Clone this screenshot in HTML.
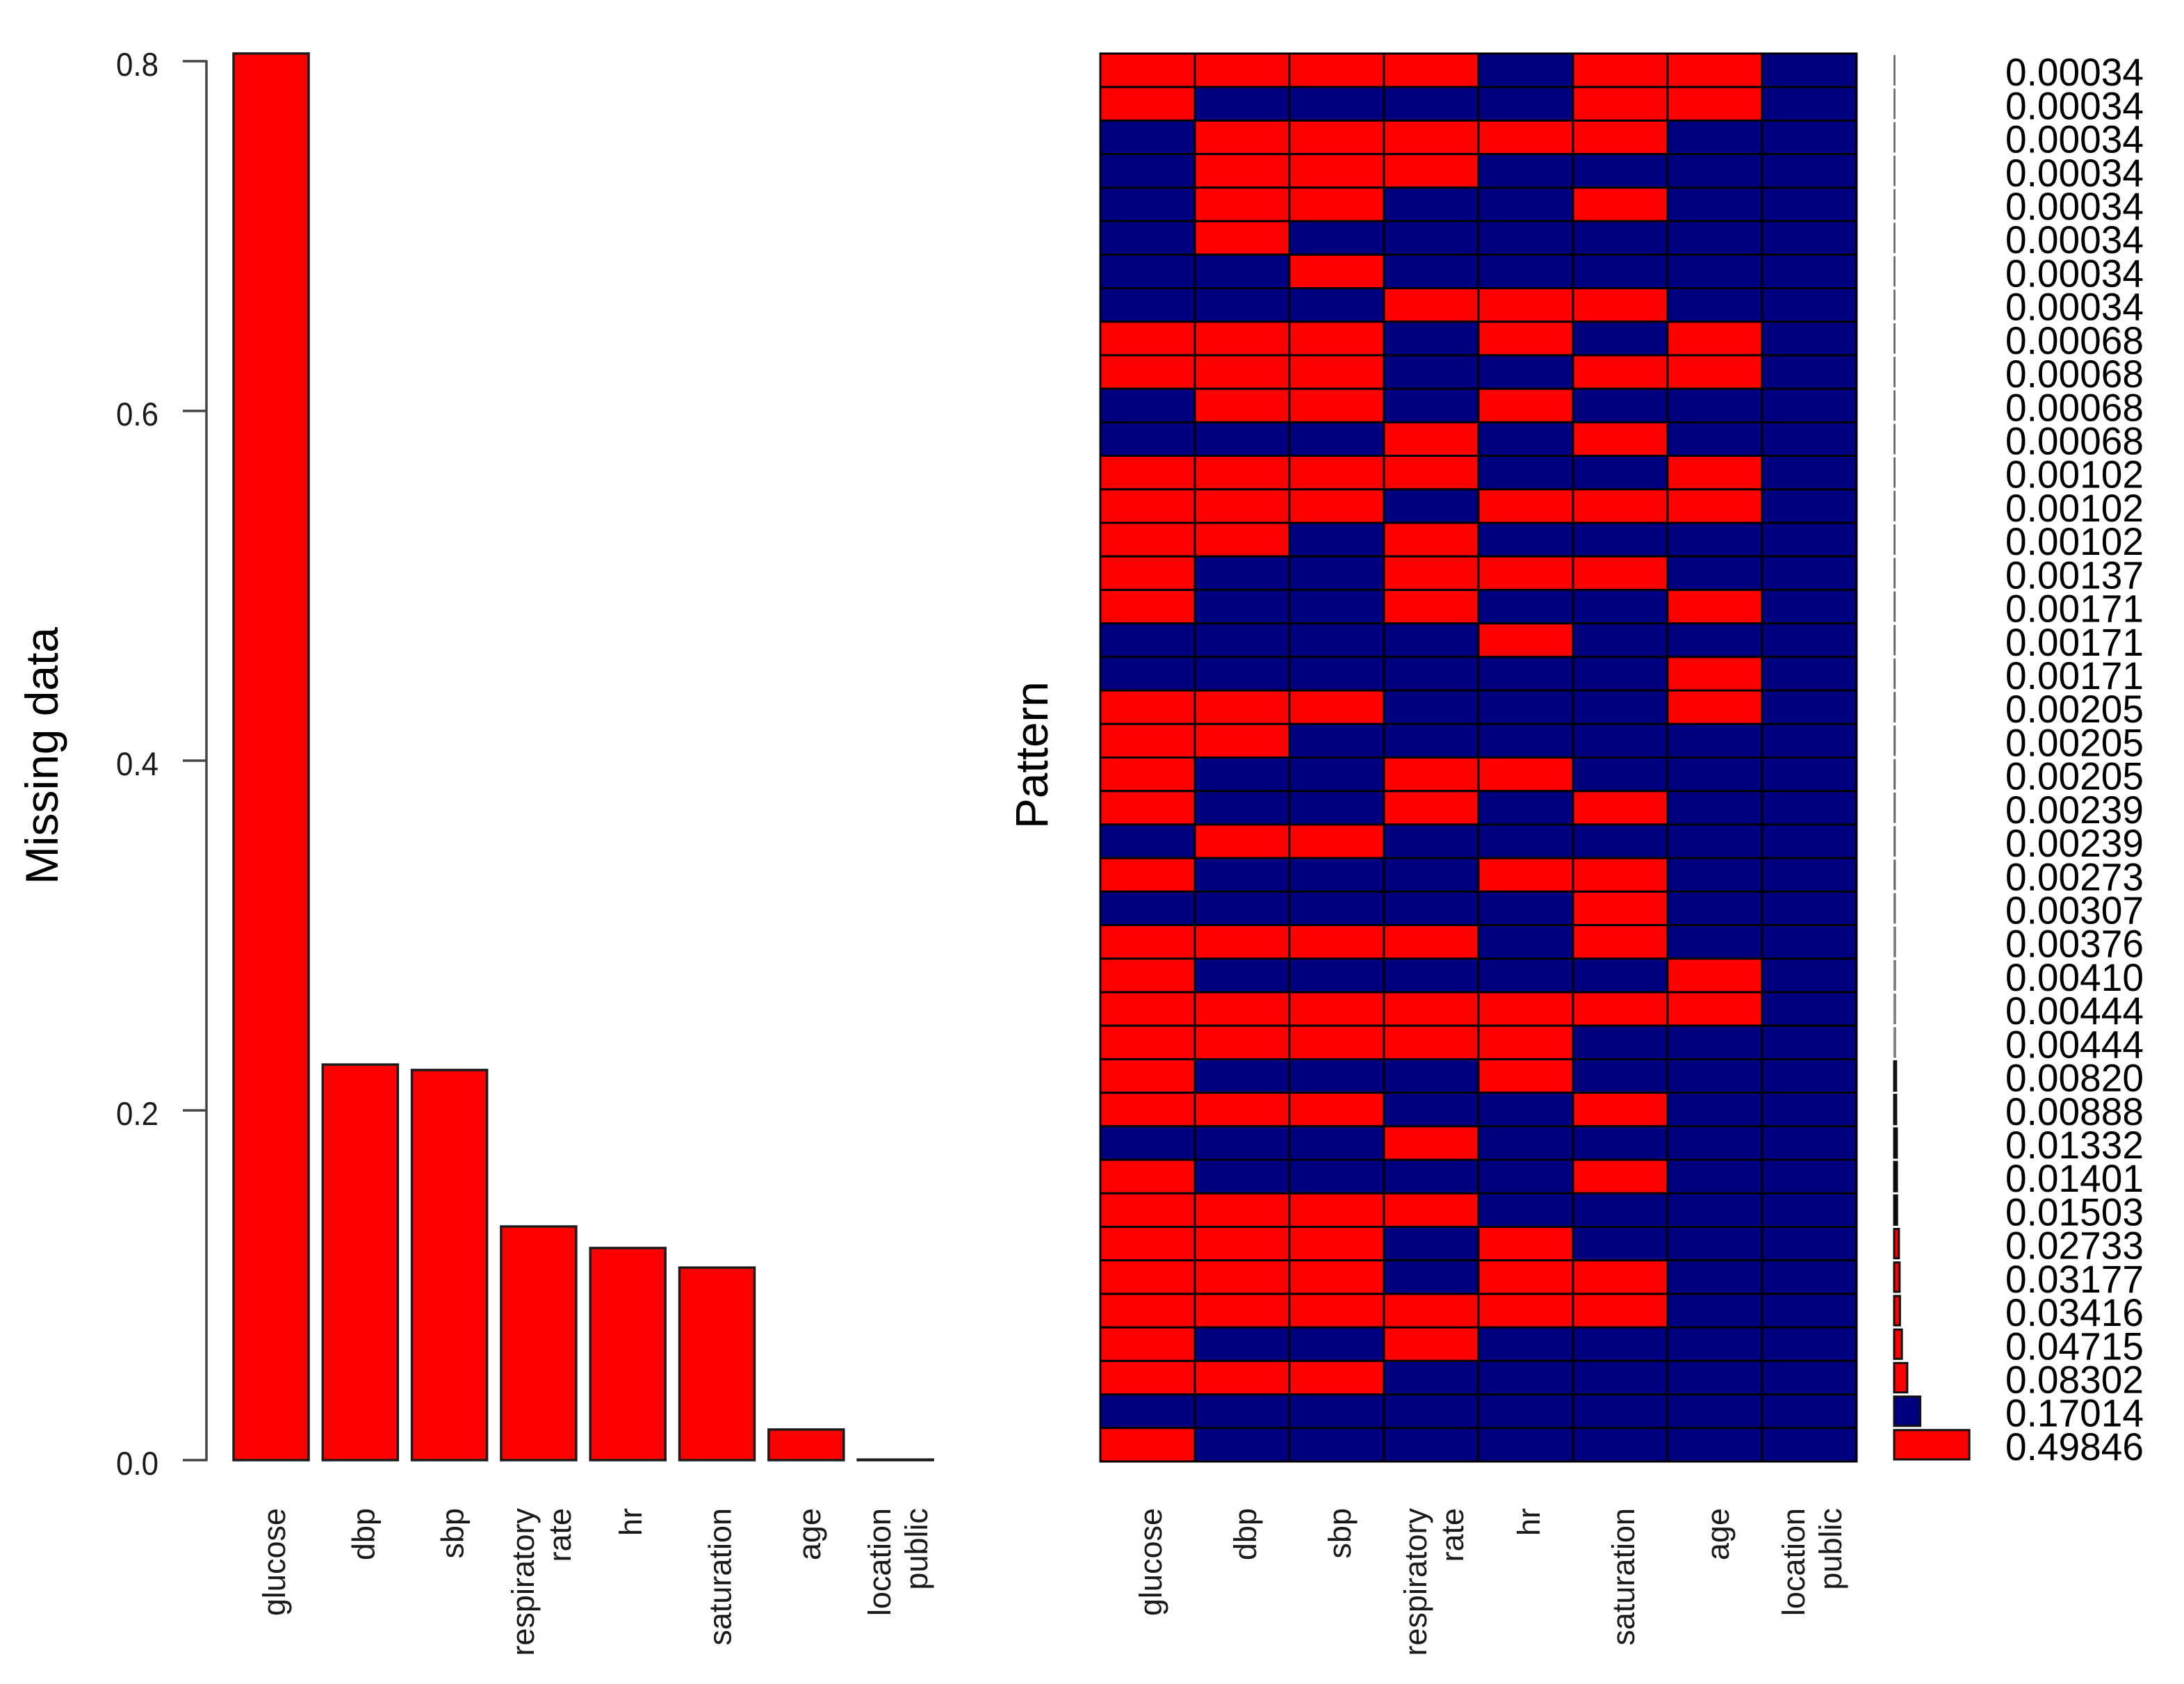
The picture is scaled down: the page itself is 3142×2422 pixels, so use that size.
<!DOCTYPE html>
<html lang="en">
<head>
<meta charset="utf-8">
<title>Missing data pattern</title>
<style>
html,body{margin:0;padding:0;background:#fff;}
svg{display:block;font-family:"Liberation Sans",Arial,sans-serif;}
</style>
</head>
<body>
<svg id="chart" xmlns="http://www.w3.org/2000/svg" width="3142" height="2422" viewBox="0 0 3142 2422">
  <rect x="0" y="0" width="3142" height="2422" fill="#ffffff"/>
  <g id="left-panel"></g>
  <g id="right-panel"></g>
  <g id="freq-panel"></g>
  <text transform="translate(83,1272) rotate(-90)" font-size="66" textLength="370" lengthAdjust="spacingAndGlyphs" fill="#000">Missing data</text>
  <text transform="translate(1507,1192) rotate(-90)" font-size="66" textLength="212" lengthAdjust="spacingAndGlyphs" fill="#000">Pattern</text>
</svg>
<script>
const categories = ["glucose", "dbp", "sbp", "respiratory\nrate", "hr", "saturation", "age", "location\npublic"];
const missingShare = [0.8044, 0.2262, 0.2231, 0.1336, 0.1213, 0.1101, 0.0175, 0.0003];
const yTicks = [0, 0.2, 0.4, 0.6, 0.8];
const patternFreq = [
  0.00034, 0.00034, 0.00034, 0.00034, 0.00034, 0.00034, 0.00034, 0.00034,
  0.00068, 0.00068, 0.00068, 0.00068, 0.00102, 0.00102, 0.00102, 0.00137,
  0.00171, 0.00171, 0.00171, 0.00205, 0.00205, 0.00205, 0.00239, 0.00239,
  0.00273, 0.00307, 0.00376, 0.00410, 0.00444, 0.00444, 0.00820, 0.00888,
  0.01332, 0.01401, 0.01503, 0.02733, 0.03177, 0.03416, 0.04715, 0.08302,
  0.17014, 0.49846
];
const patternRows = [
  "11110110", "10000110", "01111100", "01110000", "01100100", "01000000",
  "00100000", "00011100", "11101010", "11100110", "01101000", "00010100",
  "11110010", "11101110", "11010000", "10011100", "10010010", "00001000",
  "00000010", "11100010", "11000000", "10011000", "10010100", "01100000",
  "10001100", "00000100", "11110100", "10000010", "11111110", "11111000",
  "10001000", "11100100", "00010000", "10000100", "11110000", "11101000",
  "11101100", "11111100", "10010000", "11100000", "00000000", "10000000"
];

const NS = "http://www.w3.org/2000/svg";
function mk(parent, tag, attrs, text) {
  const el = document.createElementNS(NS, tag);
  for (const k in attrs) el.setAttribute(k, attrs[k]);
  if (text !== undefined) el.textContent = text;
  parent.appendChild(el);
  return el;
}
const RED = "#ff0000", NAVY = "#000080";

/* axis functions */
const yMissing = v => 2100 - v * 2515;
const barLeft = i => 336 + i * 128.3;
const BAR_W = 108;
const heatTop = 77, heatBottom = 2102, heatLeft = 1583, heatRight = 2671;
const rowH = (heatBottom - heatTop) / patternRows.length;
const colW = (heatRight - heatLeft) / categories.length;
const rowY = i => heatTop + i * rowH;
const colX = j => heatLeft + j * colW;
const freqBase = 2726;
const freqW = v => v * 215;

/* rotated category labels */
function drawCategoryLabels(parent, center) {
  categories.forEach((name, i) => {
    const lines = name.split("\n");
    const offsets = lines.length === 1 ? [20] : [-7, 46];
    lines.forEach((line, k) => {
      const x = center(i) + offsets[k];
      const t = mk(parent, "text", {
        transform: "translate(" + x + ",2169) rotate(-90)",
        "text-anchor": "end",
        "font-size": "45",
        fill: "#1a1a1a"
      }, line);
      
      
    });
  });
}

/* left panel */
const left = document.getElementById("left-panel");
const axisLine = mk(left, "line", {
  x1: 297, x2: 297, y1: yMissing(yTicks[yTicks.length - 1]) - 1.5, y2: yMissing(yTicks[0]) + 1.5,
  stroke: "#444", "stroke-width": 3.5
});


yTicks.forEach(v => {
  const y = yMissing(v);
  const tick = mk(left, "line", { x1: 263, x2: 297, y1: y, y2: y, stroke: "#444", "stroke-width": 3.5 });
  
  
  const lab = mk(left, "text", {
    x: 167, y: y + 21, "font-size": "47", fill: "#1a1a1a",
    textLength: 61, lengthAdjust: "spacingAndGlyphs"
  }, v.toFixed(1));
  
  
});
missingShare.forEach((v, i) => {
  const y = yMissing(v);
  const bar = mk(left, "rect", {
    x: barLeft(i), y: y, width: BAR_W, height: yMissing(0) - y,
    fill: RED, stroke: "#1c1c1c", "stroke-width": 3.5
  });
  
  
});
drawCategoryLabels(left, i => barLeft(i) + BAR_W / 2);

/* heatmap */
const right = document.getElementById("right-panel");
patternRows.forEach((row, r) => {
  row.split("").forEach((c, j) => {
    const cell = mk(right, "rect", {
      x: colX(j), y: rowY(r), width: colW, height: rowH,
      fill: c === "1" ? RED : NAVY, stroke: "#000", "stroke-width": 3
    });
    
    
  });
});
drawCategoryLabels(right, j => colX(j) + colW / 2);

/* frequency bars and labels */
const freq = document.getElementById("freq-panel");
patternFreq.forEach((v, r) => {
  const isComplete = patternRows[r].indexOf("1") === -1;
  const thin = v < 0.005;
  const tiny = v < 0.02;
  const bar = mk(freq, "rect", {
    x: freqBase - 1, y: rowY(r) + 3, width: freqW(v) + 1, height: rowH - 6,
    fill: thin ? "none" : (tiny ? "#000" : (isComplete ? NAVY : RED)),
    stroke: thin ? "#666" : "#111",
    "stroke-width": thin ? 1.6 : 3
  });
  
  
  const lab = mk(freq, "text", {
    x: 2885, y: rowY(r) + rowH / 2 + 22, "font-size": "56", fill: "#000",
    textLength: 199, lengthAdjust: "spacingAndGlyphs"
  }, v.toFixed(5));
  
  
});
</script>
</body>
</html>
